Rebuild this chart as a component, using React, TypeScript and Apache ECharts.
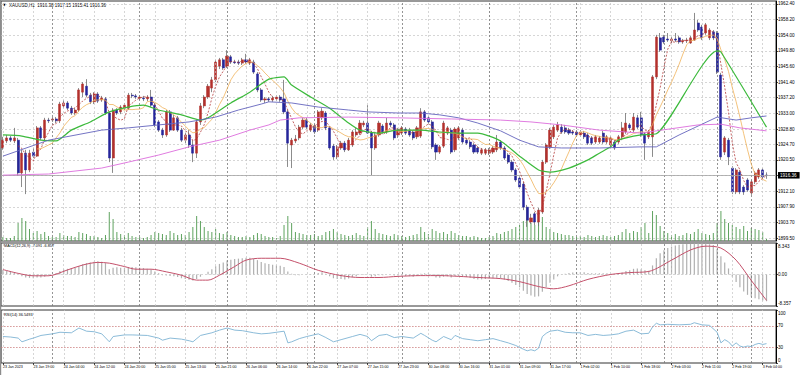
import React, { useEffect, useRef } from "react";
import * as echarts from "echarts";

const tickLabels = [
  "23 Jan 2023", "23 Jan 19:00", "24 Jan 04:00", "24 Jan 12:00", "24 Jan 20:00", "25 Jan 05:00",
  "25 Jan 13:00", "25 Jan 21:00", "26 Jan 06:00", "26 Jan 14:00", "26 Jan 22:00", "27 Jan 07:00",
  "27 Jan 15:00", "27 Jan 23:00", "30 Jan 08:00", "30 Jan 16:00", "31 Jan 01:00", "31 Jan 09:00",
  "31 Jan 17:00", "1 Feb 02:00", "1 Feb 10:00", "1 Feb 18:00", "2 Feb 03:00", "2 Feb 11:00",
  "2 Feb 19:00", "3 Feb 04:00",
];
const priceTicks = [1962.4, 1958.2, 1954.0, 1949.8, 1945.6, 1941.4, 1937.2, 1933.0, 1928.8, 1924.7, 1920.5, 1916.3, 1912.1, 1907.9, 1903.7, 1899.5];
const hiddenPriceLabel = 1916.3;
const macdTicks = [8.343, 0, -8.357];
const rsiTicks = [100, 70, 30, 0];
const rsiLevels = [70, 30];
const separatorBars = [13, 36, 59, 82, 105, 128, 151, 174, 188, 197];
const lastPrice = 1916.36;
const mainTitle = "XAUUSD,H1  1916.38 1917.15 1915.41 1916.36";
const macdTitle = "MACD(12,26,9) -7.091 -6.857";
const rsiTitle = "RSI(14) 36.5493";

// [open, close, low, high]
const ohlc = [
  [1923.7,1925.8,1923.2,1926.7],[1925.6,1926.4,1925.0,1927.2],[1926.4,1925.8,1925.3,1926.9],[1925.6,1926.4,1925.0,1929.1],
  [1925.8,1917.0,1916.2,1926.4],[1917.0,1922.3,1913.2,1923.2],[1922.3,1917.8,1911.3,1923.2],[1917.8,1922.3,1917.2,1923.2],
  [1922.6,1921.5,1921.0,1923.7],[1921.5,1929.1,1921.3,1929.6],[1929.1,1926.4,1925.8,1929.6],[1926.4,1931.2,1925.8,1931.8],
  [1931.2,1931.0,1930.4,1931.8],[1931.2,1931.5,1930.7,1932.0],[1931.5,1931.0,1930.4,1932.0],[1931.0,1935.5,1930.4,1936.1],
  [1935.0,1935.8,1934.4,1936.6],[1935.8,1934.4,1933.9,1936.3],[1934.4,1933.1,1932.6,1935.0],[1933.1,1933.9,1932.6,1934.4],
  [1933.9,1939.3,1933.4,1939.8],[1938.7,1940.9,1937.4,1941.4],[1940.3,1937.9,1937.4,1942.2],[1937.9,1936.1,1935.5,1938.5],
  [1936.1,1938.2,1935.5,1938.7],[1938.2,1936.3,1935.8,1938.7],[1936.6,1937.1,1936.1,1937.7],[1936.9,1933.1,1932.6,1937.4],
  [1933.1,1921.0,1919.9,1933.4],[1921.0,1933.9,1917.0,1934.4],[1933.9,1933.1,1932.6,1934.4],[1933.4,1934.7,1932.8,1935.2],
  [1934.4,1935.2,1933.9,1935.8],[1934.4,1937.9,1933.9,1938.5],[1937.9,1937.7,1937.1,1938.5],[1937.7,1937.4,1936.9,1938.2],
  [1937.1,1937.4,1936.6,1937.9],[1937.1,1936.9,1936.3,1937.7],[1936.9,1937.4,1936.3,1937.9],[1937.4,1935.2,1934.7,1939.3],
  [1935.2,1929.9,1929.3,1935.8],[1930.7,1928.5,1928.0,1931.2],[1928.5,1927.2,1926.4,1929.1],[1927.2,1933.4,1926.7,1933.9],
  [1933.4,1928.5,1928.0,1933.9],[1928.5,1931.8,1928.3,1932.6],[1931.8,1928.5,1928.0,1932.3],[1928.5,1925.8,1925.3,1929.1],
  [1925.8,1927.2,1925.0,1927.7],[1927.2,1924.5,1923.7,1928.5],[1924.5,1922.3,1919.9,1925.8],[1922.3,1930.7,1921.0,1931.2],
  [1930.7,1935.0,1929.9,1935.8],[1935.0,1937.4,1934.4,1937.9],[1937.4,1940.3,1936.9,1940.9],[1939.8,1942.0,1938.7,1942.8],
  [1942.0,1946.8,1941.4,1947.4],[1945.7,1947.4,1944.9,1947.9],[1947.4,1945.2,1944.7,1947.9],[1945.7,1948.4,1945.2,1950.0],
  [1948.2,1946.8,1946.3,1948.7],[1946.8,1946.6,1946.3,1947.4],[1946.8,1946.5,1946.0,1947.4],[1946.5,1947.4,1946.0,1947.9],
  [1947.4,1946.8,1946.3,1949.0],[1946.5,1947.4,1946.0,1947.9],[1946.8,1944.1,1943.6,1947.4],[1943.6,1939.3,1938.7,1944.1],
  [1939.3,1936.6,1936.1,1939.8],[1936.6,1936.9,1935.8,1937.4],[1936.9,1936.6,1936.1,1937.4],[1936.6,1937.1,1936.1,1937.7],
  [1936.9,1937.4,1936.3,1937.9],[1937.4,1936.6,1936.1,1937.9],[1936.9,1933.4,1932.8,1942.0],[1933.4,1925.0,1918.6,1933.9],
  [1924.5,1925.8,1918.3,1926.4],[1925.6,1926.1,1925.0,1927.2],[1926.4,1929.3,1925.8,1929.9],[1929.3,1931.2,1928.8,1931.8],
  [1931.2,1929.3,1928.8,1931.8],[1928.5,1929.9,1928.0,1930.4],[1929.6,1928.0,1927.5,1930.1],[1928.5,1933.4,1928.0,1933.9],
  [1931.8,1933.6,1931.2,1934.4],[1933.1,1929.1,1928.5,1933.6],[1929.1,1923.7,1923.2,1929.6],[1924.2,1921.3,1920.5,1924.8],
  [1921.3,1924.0,1920.7,1924.5],[1923.7,1925.0,1923.2,1925.6],[1925.0,1923.2,1922.6,1925.6],[1923.2,1925.8,1922.9,1926.4],
  [1924.5,1928.0,1924.0,1928.5],[1927.2,1928.0,1926.7,1929.1],[1927.7,1930.4,1927.2,1931.2],[1929.9,1930.4,1929.3,1931.0],
  [1930.4,1927.7,1927.5,1935.2],[1927.7,1923.7,1916.4,1928.3],[1923.7,1927.2,1923.2,1927.7],[1927.2,1930.4,1926.7,1931.0],
  [1929.6,1928.0,1927.5,1930.1],[1928.0,1930.4,1927.5,1931.8],[1930.4,1929.9,1929.3,1931.0],[1929.9,1926.4,1925.8,1930.4],
  [1927.2,1928.5,1926.4,1929.1],[1927.7,1929.1,1927.2,1929.6],[1928.8,1927.7,1927.2,1929.3],[1928.5,1927.2,1926.7,1929.1],
  [1928.0,1926.4,1925.8,1928.5],[1926.7,1929.1,1926.1,1929.6],[1926.9,1933.4,1926.4,1934.4],[1933.4,1931.2,1930.7,1933.9],
  [1931.8,1930.7,1930.1,1932.3],[1930.7,1924.0,1923.4,1931.2],[1924.5,1922.6,1920.5,1925.0],[1922.6,1924.0,1922.1,1924.5],
  [1924.2,1930.4,1923.7,1931.0],[1927.7,1929.1,1927.2,1929.6],[1928.5,1922.6,1922.1,1929.1],[1923.2,1928.8,1922.6,1929.3],
  [1926.4,1929.1,1925.8,1929.6],[1928.5,1925.3,1924.8,1929.1],[1925.8,1925.0,1924.5,1926.4],[1925.3,1924.0,1923.4,1925.8],
  [1924.5,1922.6,1922.1,1925.0],[1923.7,1922.6,1922.1,1924.2],[1922.3,1923.2,1921.8,1923.7],[1922.3,1923.2,1921.8,1923.7],
  [1922.3,1923.2,1921.8,1923.7],[1922.6,1923.7,1922.1,1924.2],[1923.2,1925.3,1922.6,1927.2],[1925.3,1923.7,1923.2,1925.8],
  [1923.7,1921.0,1920.5,1924.2],[1921.8,1919.9,1919.4,1922.3],[1919.9,1917.8,1917.2,1920.5],[1917.8,1915.1,1914.6,1918.3],
  [1915.6,1913.2,1912.7,1916.2],[1914.0,1907.8,1907.0,1914.6],[1907.8,1904.3,1902.5,1908.4],[1903.8,1904.9,1903.3,1906.0],
  [1906.0,1903.8,1903.0,1906.5],[1903.8,1907.0,1902.7,1907.6],[1906.5,1919.9,1906.0,1920.5],[1919.9,1924.5,1919.4,1925.0],
  [1924.0,1928.5,1923.4,1929.1],[1926.7,1929.3,1926.1,1929.9],[1928.5,1929.9,1928.0,1930.7],[1929.3,1928.0,1927.5,1930.1],
  [1929.1,1928.0,1927.5,1929.9],[1928.5,1927.7,1927.2,1929.1],[1928.0,1927.7,1927.2,1928.5],[1928.0,1927.2,1926.7,1928.5],
  [1927.2,1928.0,1926.7,1928.5],[1927.7,1926.7,1926.1,1928.3],[1927.2,1925.0,1924.5,1927.7],[1926.4,1925.0,1924.5,1926.9],
  [1925.3,1926.7,1924.8,1927.2],[1925.3,1926.4,1924.8,1926.9],[1927.7,1925.3,1924.8,1928.3],[1925.3,1926.7,1924.8,1927.2],
  [1924.5,1926.4,1924.0,1926.9],[1925.3,1923.7,1923.2,1925.8],[1925.3,1926.7,1924.8,1927.2],[1926.7,1929.1,1925.8,1930.7],
  [1928.0,1930.4,1927.5,1933.1],[1929.9,1929.1,1928.5,1930.4],[1928.5,1932.0,1928.0,1933.1],[1931.8,1929.3,1928.8,1932.6],
  [1931.8,1927.2,1926.7,1933.4],[1927.5,1925.0,1920.5,1928.0],[1926.7,1928.0,1926.1,1928.5],[1926.7,1942.8,1921.3,1943.3],
  [1942.8,1953.5,1942.2,1954.1],[1953.3,1950.0,1949.5,1954.6],[1953.5,1952.2,1951.7,1954.1],[1953.0,1952.7,1952.2,1954.6],
  [1952.5,1953.0,1951.9,1953.5],[1953.0,1952.7,1952.2,1954.6],[1953.3,1952.2,1951.7,1953.8],[1952.2,1952.5,1951.7,1953.0],
  [1952.5,1952.7,1951.9,1953.3],[1951.9,1953.3,1951.7,1953.8],[1952.7,1955.4,1952.5,1960.0],[1957.3,1955.4,1954.9,1958.1],
  [1956.2,1953.3,1952.7,1956.8],[1954.6,1956.8,1954.1,1957.3],[1953.3,1955.4,1952.7,1955.9],[1954.9,1953.3,1952.7,1955.4],
  [1954.6,1944.1,1943.6,1955.1],[1943.3,1921.3,1920.5,1943.9],[1922.6,1926.4,1921.8,1926.9],[1925.8,1921.3,1919.1,1926.4],
  [1918.3,1911.9,1911.3,1918.8],[1911.9,1917.8,1911.3,1918.3],[1917.2,1911.9,1911.3,1917.8],[1913.2,1911.9,1911.1,1913.7],
  [1915.1,1912.4,1911.9,1915.6],[1911.6,1914.6,1911.1,1915.1],[1914.6,1917.0,1914.0,1917.5],[1915.9,1917.8,1915.4,1918.3],
  [1917.8,1915.9,1915.4,1918.3],[1916.38,1916.36,1915.41,1917.15],
];

const volumes = [
  1200,900,900,1500, 5400,6900,6000,3600, 2400,3000,2100,2700,1500,1200,1200,
  2400,1800,1500,1500,1200,2700,2400,2100,1500,1500,1200,900,1800, 8700,6600,
  2700,2100,1800,2400,1500,1200,1200,900,1200,1800,2700, 2400,2100,1800,3000,2400,1800,2100,1800,2700,4200,
  7500,6000,4200, 3000,2700,3600,2400,2100,2700,1800,1500,1200,1200,1500,1200,
  1800,2400,2100,1500,1200,1200,900,1500, 4800,7500,5400,
  2700,2400,2100,1800,1800,2100,1500,1800,2700,3000,3600,2700,2100,1800,1500,1800,2400,1800,1500,
  4200,6000,3600, 2400,2100,1800,1500,2100,1800,1500,1200,1500,1800,2100,4200,2700,2100,
  3600,3000,2400,2700,2100,3000, 2400,1800,1500,1500,1200,1500,1200,900,900,1200,1500,2400,
  2100,2700,3000,3600,4200,4800,6000, 6900,5400,4800,6000,7200, 4200,3600,2700,2400,2100,1800,1800,1500,
  1200,1500,1200,1800,1500,1200,1500,1800,1500,1200,1500,1800, 2700,3600,2400,3000,2700,4200,5400,2400,
  9000,7800,4500, 3000,2400,1800,2100,1500,1800,2400,2100,2700,3600,2400,2100,1800,2400,
  5400,9000,6600,5400, 4800,4200,3600,4500,3000,3900,3600,3300,2700, 600,
];

// slower moving averages: [bar, price]
const maGreen = [
  [0,1927.2],[5,1926.9],[10,1925.8],[14,1925.6],[18,1928.5],[23,1930.7],[28,1933.4],[33,1934.7],[37,1935.2],
  [41,1933.9],[47,1932.6],[52,1931.2],[54,1931.8],[60,1935.8],[65,1938.7],[70,1942.2],[74,1942.8],[76,1940.6],
  [81,1937.4],[86,1934.4],[91,1930.4],[94,1928.5],[99,1927.7],[104,1928.5],[110,1928.5],[115,1928.0],[120,1927.7],
  [125,1927.7],[131,1925.6],[136,1921.5],[141,1917.8],[144,1917.2],[149,1918.3],[154,1920.5],[157,1922.3],
  [160,1924.0],[162,1925.8],[168,1927.2],[172,1927.5],[188,1949.8],[189,1949.5],[201,1929.3],
];
const maBlue = [
  [0,1921.5],[12,1925.8],[26,1928.5],[33,1929.1],[41,1929.9],[49,1930.7],[56,1932.0],[62,1933.9],[68,1935.5],
  [70,1936.1],[76,1935.8],[83,1934.7],[91,1933.9],[96,1933.4],[104,1933.1],[110,1933.1],[115,1932.6],[120,1931.8],
  [125,1930.4],[131,1928.3],[136,1925.8],[141,1924.0],[147,1923.7],[157,1923.7],[168,1924.0],[172,1924.0],
  [178,1927.2],[183,1929.6],[188,1932.0],[193,1931.2],[197,1931.8],[201,1932.3],
];
const maMagenta = [
  [0,1916.4],[12,1916.7],[26,1918.3],[33,1919.9],[41,1921.8],[49,1924.0],[57,1925.8],[65,1928.5],[70,1929.9],
  [73,1931.2],[78,1931.8],[91,1932.0],[104,1931.8],[118,1931.5],[131,1931.2],[139,1930.7],[147,1929.9],
  [157,1928.5],[168,1927.7],[172,1928.3],[183,1929.9],[189,1930.1],[194,1929.1],[201,1928.3],
];

const macdHist = [
  1.2,1.0,0.8,0.5,0.0, -0.5,-0.8,-0.9,-1.0,-0.8,-0.8,-0.6, -0.3,0.0, 0.4,0.9,1.3,1.5,1.6,1.8,2.2,
  2.7,3.0,3.2,3.4,3.5,3.4, 3.0, 1.4,1.8, 1.9,1.8,1.8,2.0,2.0,1.9,1.8,1.7,1.5,1.3,0.8,
  0.3,-0.2,-0.3,-0.4,-0.5,-0.7,-1.0,-1.2,-1.4,-1.6,-1.2,-0.6,0.0,0.7, 1.4,2.2,2.8,3.2,3.7,
  3.9,4.1,4.2,4.3,4.4,4.4,4.2,3.8,3.3, 3.0,2.8,2.6,2.4,2.3,2.0, 0.8,0.2,-0.2,-0.2,
  0.0,0.1,0.1,0.0,0.4,0.6,0.2,-0.5, -1.0,-1.2,-1.2,-1.3,-1.1,-0.7,-0.5,-0.1,0.1,
  -0.1,-0.6,-0.5,-0.2,-0.2,0.0,0.0,-0.3,-0.3,-0.3,-0.4,-0.5,-0.6,-0.4,0.2,
  0.3,0.3,-0.3,-0.8,-0.9,-0.6,-0.5,-0.8,-0.5,-0.4,-0.6,-0.7,-0.9,-1.2,-1.3,
  -1.3,-1.2,-1.1,-1.0,-0.9,-1.0,-1.3,-1.7,-2.2,-2.8,-3.4,-4.3,-5.2,-5.6,-5.9,-5.8,
  -4.6,-3.4,-2.2,-1.3,-0.5,-0.1,0.2,0.4,0.5,
  0.6,0.6,0.6,0.4,0.3,0.3,0.3,0.3,0.3,0.2,0.1,0.2,0.5,0.9,1.1,1.5,1.6,1.4,1.1,1.0,
  2.4,4.3,5.6,6.4,7.0,7.4,7.7,7.9,8.0,8.1,8.1,8.2,8.3,8.3,8.2,8.0,7.8,6.8,
  4.8,3.2,1.6,-0.6,-2.0,-3.4,-4.5,-5.4,-5.9,-6.3,-6.6,-6.9,-7.091,
];
const macdSignal = [
  [0,1.3],[4,0.3],[8,-0.35],[12,-0.35],[17,1.2],[21,2.5],[25,3.2],[28,3.0],[32,2.1],[35,1.4],[39,1.4],[43,0.7],
  [47,-0.2],[51,-1.5],[54,-1.5],[57,-0.2],[61,2.1],[64,3.8],[68,4.3],[73,4.3],[78,3.0],[83,1.1],[89,-0.3],
  [94,-0.8],[99,-0.8],[104,-0.5],[110,-0.3],[115,-0.3],[120,-0.5],[125,-0.8],[131,-1.1],[136,-1.9],[141,-3.2],
  [145,-3.8],[149,-3.0],[154,-1.3],[160,0.0],[165,0.5],[170,0.8],[176,3.8],[181,6.5],[185,7.5],[189,7.0],
  [193,3.8],[197,-1.6],[201,-6.857],
];
const rsi = [
  [0,50],[2,49],[4,47],[5,40],[7,45],[8,47],[10,52],[13,55],[15,58],[18,57],[20,66],[22,60],[24,59],[26,55],
  [28,40],[29,50],[32,53],[34,53],[38,52],[41,47],[42,43],[44,47],[47,45],[49,42],[50,40],[52,52],[55,57],
  [57,62],[59,66],[61,62],[63,61],[66,57],[68,55],[70,56],[74,60],[75,38],[76,40],[78,46],[80,50],[83,55],
  [85,48],[87,40],[89,44],[92,50],[94,54],[96,50],[97,42],[99,52],[101,54],[103,48],[105,50],[108,47],[110,56],
  [111,52],[113,43],[114,40],[116,50],[118,44],[119,52],[121,46],[123,44],[125,42],[127,44],[129,46],[131,42],
  [133,38],[135,33],[137,26],[138,23],[139,25],[140,23],[141,28],[142,50],[143,56],[144,60],[146,62],[148,58],
  [150,57],[152,57],[154,52],[156,54],[158,52],[160,53],[162,55],[164,60],[166,62],[168,55],[170,56],[171,68],
  [172,75],[173,72],[175,73],[178,72],[181,73],[182,76],[184,72],[186,71],[188,58],[189,38],[190,44],[191,40],
  [192,32],[193,38],[194,32],[195,30],[196,32],[197,31],[198,35],[199,37],[200,35],[201,36.5493],
];

const FAST_MA = 5;
const MID_MA = 10;
const N_CATS = 204;

function sma(src: number[], p: number) {
  return src.map((_, i) => {
    if (i < p - 1) return "-";
    let s = 0;
    for (let k = i - p + 1; k <= i; k++) s += src[k];
    return +(s / p).toFixed(2);
  });
}

const FONT = "Liberation Sans";

export default function App() {
  const ref = useRef<HTMLDivElement>(null);
  useEffect(() => {
    const chart = echarts.init(ref.current!, null, { renderer: "svg" });
    const cats = Array.from({ length: N_CATS }, (_, i) => String(i));
    const closes = ohlc.map((r) => r[1]);
    const bodies = ohlc.map(([o, c]) => [o, c, Math.min(o, c), Math.max(o, c)]);
    const isLabel = (i: number) => i % 8 === 0 && i / 8 < tickLabels.length;

    const gridStyle = { color: "#c4c4c4", type: [2, 2], width: 0.7 };
    const sepStyle = { color: "#7a7a7a", type: [2, 2], width: 0.8 };
    const vLines = [
      ...tickLabels.map((_, k) => ({ xAxis: k * 8, lineStyle: gridStyle })),
      ...separatorBars.map((b) => ({ xAxis: b, lineStyle: sepStyle })),
    ];
    const vMark = {
      silent: true,
      symbol: ["none", "none"],
      label: { show: false },
      emphasis: { disabled: true },
      data: vLines,
    };

    const hiddenX = (gridIndex: number) => ({
      type: "category",
      gridIndex,
      data: cats,
      boundaryGap: true,
      axisLine: { show: false },
      axisTick: { show: false },
      axisLabel: { show: false },
      splitLine: { show: false },
    });

    const option: any = {
      animation: false,
      backgroundColor: "#ffffff",
      textStyle: { fontFamily: FONT },
      grid: [
        { left: 1, top: 1, width: 775, height: 240, show: true, borderColor: "#333", borderWidth: 1, backgroundColor: "transparent" },
        { left: 1, top: 243, width: 775, height: 63, show: true, borderColor: "#333", borderWidth: 1, backgroundColor: "transparent" },
        { left: 1, top: 310, width: 775, height: 53, show: true, borderColor: "#333", borderWidth: 1, backgroundColor: "transparent" },
      ],
      xAxis: [
        hiddenX(0),
        hiddenX(1),
        {
          type: "category",
          gridIndex: 2,
          data: cats,
          boundaryGap: true,
          axisLine: { show: false },
          axisTick: { show: true, alignWithLabel: true, interval: (i: number) => isLabel(i), length: 2, lineStyle: { color: "#000", width: 0.7 } },
          axisLabel: {
            show: true,
            interval: (i: number) => isLabel(i),
            formatter: (_v: string, i: number) => tickLabels[i / 8] ?? "",
            align: "left",
            fontSize: 3.6,
            margin: 2,
            color: "#000",
            fontFamily: FONT,
          },
          splitLine: { show: false },
        },
      ],
      yAxis: [
        {
          type: "value",
          gridIndex: 0,
          position: "right",
          min: 1898.7,
          max: 1963.2,
          axisLine: { show: true, lineStyle: { color: "#000", width: 1 } },
          axisTick: { show: true, length: 2, customValues: priceTicks, lineStyle: { color: "#000", width: 0.7 } },
          axisLabel: {
            customValues: priceTicks.filter((v) => v !== hiddenPriceLabel),
            formatter: (v: number) => v.toFixed(2),
            fontSize: 4.6,
            margin: 2,
            color: "#000",
            fontFamily: FONT,
          },
          splitLine: { show: true, lineStyle: gridStyle },
        },
        { type: "value", gridIndex: 0, min: 0, max: 72000, show: false, splitLine: { show: false } },
        {
          type: "value",
          gridIndex: 1,
          position: "right",
          min: -8.357,
          max: 8.343,
          axisLine: { show: true, lineStyle: { color: "#000", width: 1 } },
          axisTick: { show: true, length: 2, customValues: macdTicks, lineStyle: { color: "#000", width: 0.7 } },
          axisLabel: {
            customValues: macdTicks,
            formatter: (v: number) => (v === 0 ? "0.00" : v > 0 ? "{t|" + v.toFixed(3) + "}" : "{b|" + v.toFixed(3) + "}"),
            rich: {
              t: { fontSize: 4.6, padding: [6, 0, 0, 0], color: "#000", fontFamily: FONT },
              b: { fontSize: 4.6, padding: [0, 0, 5, 0], color: "#000", fontFamily: FONT },
            },
            fontSize: 4.6,
            margin: 2,
            color: "#000",
            fontFamily: FONT,
          },
          splitLine: { show: false },
        },
        {
          type: "value",
          gridIndex: 2,
          position: "right",
          min: 0,
          max: 100,
          axisLine: { show: true, lineStyle: { color: "#000", width: 1 } },
          axisTick: { show: true, length: 2, customValues: rsiTicks, lineStyle: { color: "#000", width: 0.7 } },
          axisLabel: {
            customValues: rsiTicks,
            formatter: (v: number) => (v === 100 ? "{t|100}" : v === 0 ? "{b|0}" : String(v)),
            rich: {
              t: { fontSize: 4.6, padding: [7, 0, 0, 0], color: "#000", fontFamily: FONT },
              b: { fontSize: 4.6, padding: [0, 0, 6, 0], color: "#000", fontFamily: FONT },
            },
            fontSize: 4.6,
            margin: 2,
            color: "#000",
            fontFamily: FONT,
          },
          splitLine: { show: false },
        },
      ],
      series: [
        {
          name: "Volume",
          type: "bar",
          xAxisIndex: 0,
          yAxisIndex: 1,
          data: volumes,
          barWidth: 1,
          itemStyle: { color: "#5fa35f" },
          z: 1,
          markLine: vMark,
        },
        {
          name: "Wicks",
          type: "candlestick",
          xAxisIndex: 0,
          yAxisIndex: 0,
          data: ohlc,
          barWidth: 0.8,
          itemStyle: { color: "#6e6e6e", color0: "#6e6e6e", borderColor: "#6e6e6e", borderColor0: "#6e6e6e", borderWidth: 0.8 },
          z: 3,
        },
        {
          name: "Bodies",
          type: "candlestick",
          xAxisIndex: 0,
          yAxisIndex: 0,
          data: bodies,
          barWidth: 2.6,
          itemStyle: { color: "#b3302c", color0: "#25259a", borderColor: "#b3302c", borderColor0: "#25259a", borderWidth: 0.5 },
          z: 4,
          markLine: {
            silent: true,
            symbol: ["none", "none"],
            data: [{ yAxis: lastPrice }],
            lineStyle: { color: "#a3a3a3", type: "solid", width: 0.8 },
            label: {
              show: true,
              position: "end",
              formatter: lastPrice.toFixed(2),
              backgroundColor: "#000",
              color: "#fff",
              fontSize: 4.6,
              fontFamily: FONT,
              padding: [1, 3, 0.5, 2],
              distance: 2,
            },
          },
        },
        {
          name: "MA fast",
          type: "line",
          xAxisIndex: 0,
          yAxisIndex: 0,
          data: sma(closes, FAST_MA),
          showSymbol: false,
          symbol: "none",
          lineStyle: { color: "#b43c3c", width: 0.8, type: [2, 1.5] },
          z: 5,
        },
        {
          name: "MA mid",
          type: "line",
          xAxisIndex: 0,
          yAxisIndex: 0,
          data: sma(closes, MID_MA),
          showSymbol: false,
          symbol: "none",
          lineStyle: { color: "#f0b25a", width: 0.8 },
          z: 5,
        },
        {
          name: "MA green",
          type: "line",
          xAxisIndex: 0,
          yAxisIndex: 0,
          data: maGreen,
          showSymbol: false,
          symbol: "none",
          smooth: 0.2,
          lineStyle: { color: "#3cba3c", width: 1.2 },
          z: 5,
        },
        {
          name: "MA blue",
          type: "line",
          xAxisIndex: 0,
          yAxisIndex: 0,
          data: maBlue,
          showSymbol: false,
          symbol: "none",
          lineStyle: { color: "#6464bd", width: 0.9 },
          z: 5,
        },
        {
          name: "MA magenta",
          type: "line",
          xAxisIndex: 0,
          yAxisIndex: 0,
          data: maMagenta,
          showSymbol: false,
          symbol: "none",
          lineStyle: { color: "#dc6ddc", width: 0.9 },
          z: 5,
        },
        {
          name: "MACD",
          type: "bar",
          xAxisIndex: 1,
          yAxisIndex: 2,
          data: macdHist,
          barWidth: 1.2,
          itemStyle: { color: "#b0b0b0" },
          z: 2,
          markLine: {
            ...vMark,
            data: [...vLines, { yAxis: 0, lineStyle: gridStyle }],
          },
        },
        {
          name: "Signal",
          type: "line",
          xAxisIndex: 1,
          yAxisIndex: 2,
          data: macdSignal,
          showSymbol: false,
          symbol: "none",
          smooth: 0.3,
          lineStyle: { color: "#c4506a", width: 1 },
          z: 5,
        },
        {
          name: "RSI",
          type: "line",
          xAxisIndex: 2,
          yAxisIndex: 3,
          data: rsi,
          showSymbol: false,
          symbol: "none",
          lineStyle: { color: "#7eb3d4", width: 0.9 },
          z: 5,
          markLine: {
            ...vMark,
            data: [
              ...vLines,
              ...rsiLevels.map((v) => ({ yAxis: v, lineStyle: { color: "#c97a7a", type: [1.5, 1.5], width: 0.8 } })),
            ],
          },
        },
      ],
      graphic: [
        { type: "rect", left: 0, top: 0, shape: { width: 1.2, height: 375 }, style: { fill: "#8c8c8c" }, silent: true },
        { type: "text", left: 3, top: 3, style: { text: "▼", fontSize: 3.5, fill: "#000", fontFamily: "DejaVu Sans" }, silent: true },
        { type: "text", left: 9, top: 2.5, style: { text: mainTitle, fontSize: 4.5, fill: "#000", fontFamily: FONT }, silent: true },
        { type: "text", left: 4, top: 244, style: { text: macdTitle, fontSize: 3.8, fill: "#000", fontFamily: FONT }, silent: true },
        { type: "text", left: 4, top: 312, style: { text: rsiTitle, fontSize: 3.9, fill: "#000", fontFamily: FONT }, silent: true },
      ],
    };
    chart.setOption(option);
    return () => chart.dispose();
  }, []);
  return (
    <div
      ref={ref}
      style={{ position: "fixed", left: 0, top: 0, width: 800, height: 375, background: "#fff" }}
    />
  );
}
